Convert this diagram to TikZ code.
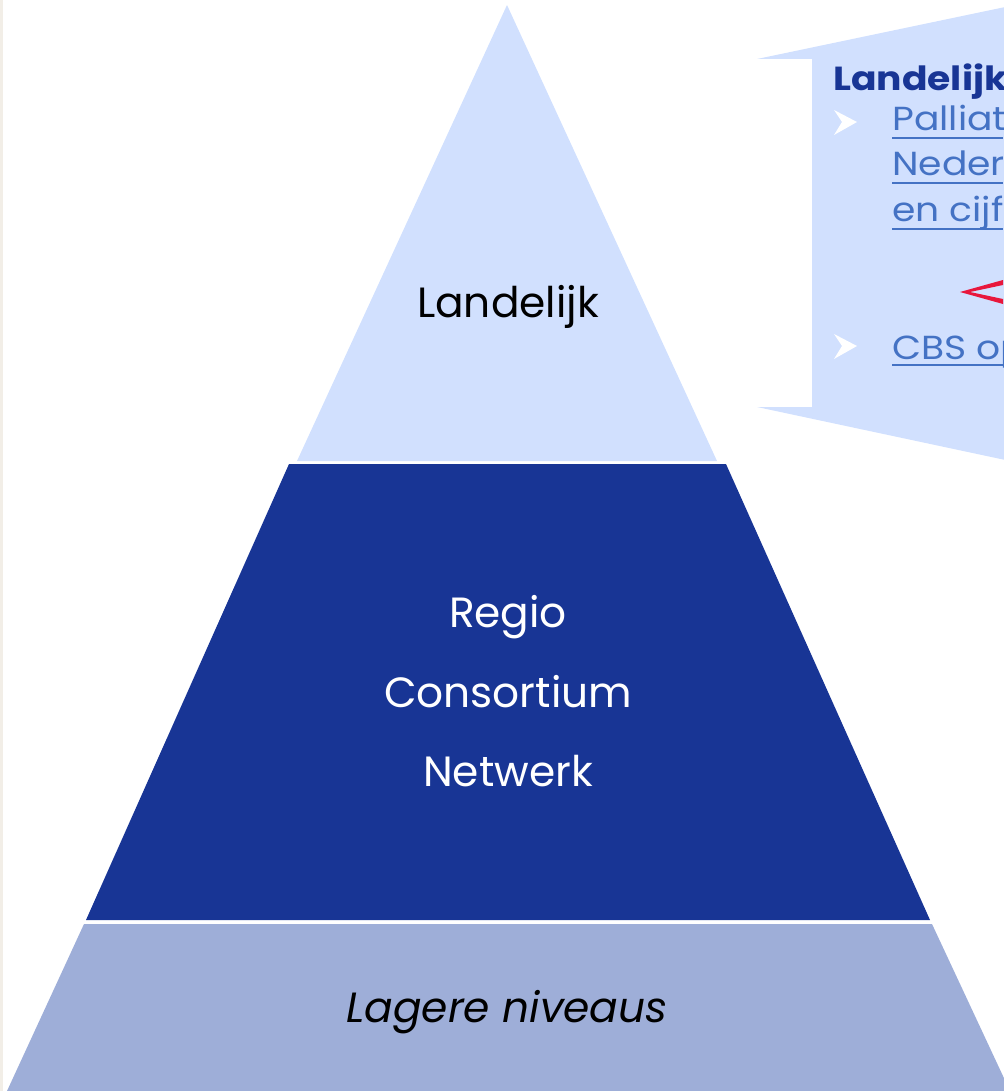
\documentclass[tikz,border=0pt]{standalone}
\usepackage{fontspec}
\setmainfont{Poppins}
\newfontfamily\calloutfont{Poppins}[FakeStretch=1.13]
\usepackage{xcolor}
\usepackage{tikz}

\definecolor{topblue}{HTML}{D1E0FE}
\definecolor{navy}{HTML}{183595}
\definecolor{lowblue}{HTML}{9EAED8}
\definecolor{linkblue}{HTML}{4472C4}
\definecolor{strip}{HTML}{F2EEE7}
\definecolor{redmark}{HTML}{E8173C}

\tikzset{
  layertext/.style={anchor=base,inner sep=0.75pt,font=\fontsize{31.7}{36}\selectfont},
  calltext/.style={anchor=base west,inner sep=0pt,font=\calloutfont\fontsize{25}{29}\selectfont},
  linktext/.style={calltext,text=linkblue},
}
\newcommand{\bulletarrow}[2]{%
  \fill[white] (#1,#2-12) -- (#1+23,#2) -- (#1,#2+13) -- (#1+8,#2) -- cycle;}

\begin{document}
\begin{tikzpicture}[x=0.75pt,y=0.75pt,yscale=-1,xscale=1]
\useasboundingbox (0,0) rectangle (1003,1091);
%Shape: Rectangle [left strip]
\fill[strip] (0,0) rectangle (3,1091);
%Shape: Triangle [top layer]
\fill[topblue] (507,5) -- (717,461) -- (297,461) -- cycle;
%Shape: Trapezoid [middle layer]
\fill[navy] (289,464) -- (726,464) -- (930,920) -- (86,920) -- cycle;
%Shape: Trapezoid [lower layer]
\fill[lowblue] (84,924) -- (932,924) -- (1010,1091) -- (7,1091) -- cycle;
%Shape: Callout
\fill[topblue] (757,59) -- (1010,6) -- (1010,461) -- (757,407) -- (812,407) -- (812,59) -- cycle;
% Text Node
\node[layertext] (landelijk) at (508,317) {Landelijk};
% Text Node
\node[layertext,text=white] (regio) at (508,627) {Regio};
% Text Node
\node[layertext,text=white] (consortium) at (508,707) {Consortium};
% Text Node
\node[layertext,text=white] (netwerk) at (508,786) {Netwerk};
% Text Node
\node[layertext,font=\fontsize{31.7}{36}\selectfont\itshape] (lager) at (507,1022) {Lagere niveaus};
% Text Node
\node[calltext,text=navy,font=\calloutfont\fontsize{25}{29}\selectfont\bfseries] (calltitle) at (833,91) {Landelijk};
\bulletarrow{834}{122}
% Text Node
\node[linktext] (link1) at (892,131) {Palliat};
% Text Node
\node[linktext] (link2) at (892,176) {Neder};
% Text Node
\node[linktext] (link3) at (892,222) {en cijf};
\bulletarrow{834}{346}
% Text Node
\node[linktext] (link4) at (892,359) {CBS op};
%Straight Lines [underlines]
\foreach \n/\y in {link1/138,link2/183,link3/229,link4/365}
  \draw[linkblue,line width=1.5] (892,\y) -- (1003,\y);
%Shape: red arrowhead
\fill[redmark] (960,292) -- (1003,280) -- (1003,285) -- (970,292) -- (1003,299) -- (1003,304) -- cycle;
\end{tikzpicture}
\end{document}
